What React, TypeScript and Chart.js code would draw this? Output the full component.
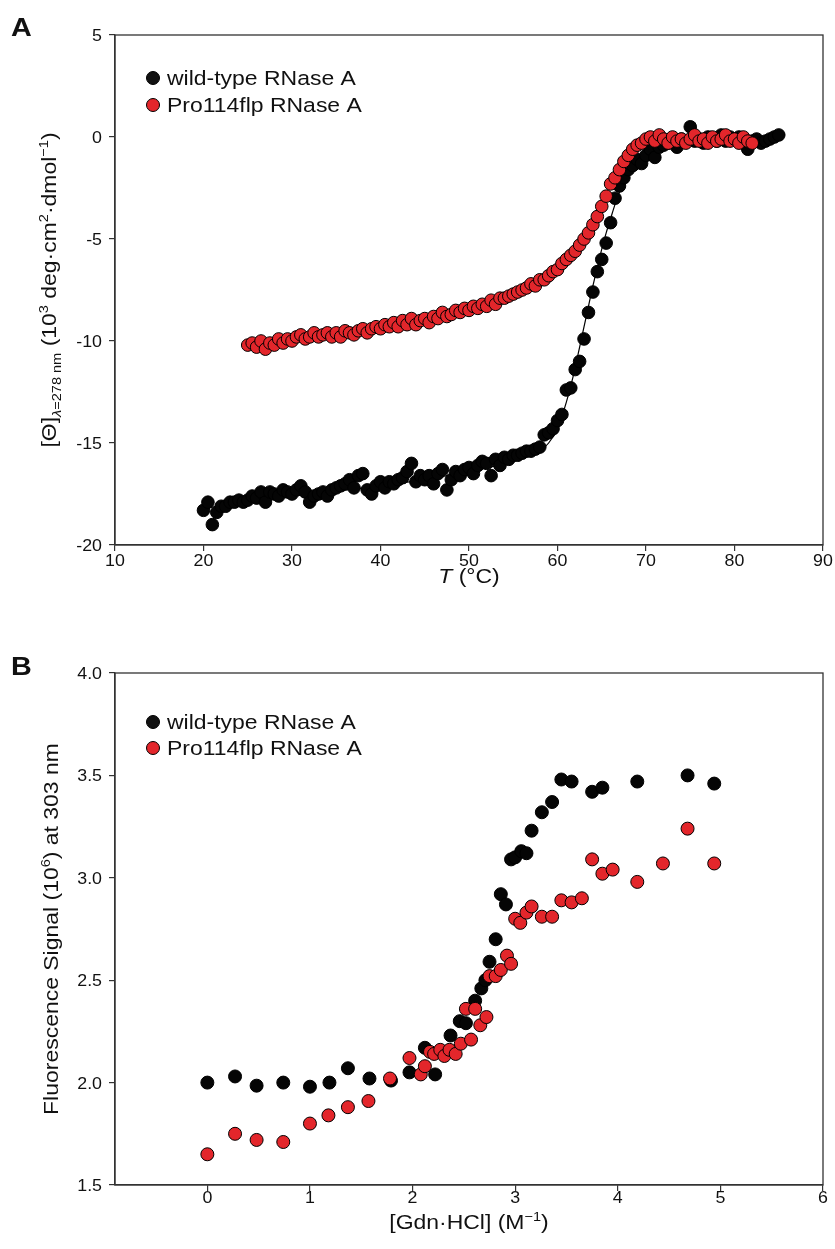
import React, { useEffect, useRef } from 'react';
import { Chart, registerables } from 'chart.js';

Chart.register(...registerables);

const FONT = '"Liberation Sans", Arial, Helvetica, sans-serif';
const RED = '#e3262b';
const INK = '#111111';
const AXIS = '#333333';

// ---------- Panel A: CD thermal denaturation ----------
const WT_T_START = 20;
const WT_T_STEP = 0.5;
const WT_CD = [
  -18.3, -17.9, -19.0, -18.4, -18.1, -18.1, -17.9, -17.9, -17.8, -17.9,
  -17.8, -17.6, -17.7, -17.4, -17.9, -17.4, -17.5, -17.6, -17.3, -17.4,
  -17.5, -17.3, -17.1, -17.4, -17.9, -17.6, -17.5, -17.4, -17.6, -17.3,
  -17.2, -17.1, -17.0, -16.8, -17.2, -16.6, -16.5, -17.3, -17.5, -17.1,
  -16.9, -17.2, -16.9, -17.0, -16.8, -16.7, -16.4, -16.0, -16.9, -16.6,
  -16.8, -16.6, -17.0, -16.5, -16.3, -17.3, -16.8, -16.4, -16.6, -16.3,
  -16.2, -16.5, -16.1, -15.9, -16.0, -16.6, -15.8, -16.1, -15.7, -15.8,
  -15.6, -15.6, -15.5, -15.4, -15.4, -15.3, -15.2, -14.6, -14.5, -14.3,
  -13.9, -13.6, -12.4, -12.3, -11.4, -11.0, -9.9, -8.6, -7.6, -6.6,
  -6.0, -5.2, -4.2, -3.0, -2.4, -2.0, -1.6, -1.4, -1.1, -1.3,
  -0.9, -0.6, -1.0, -0.5, -0.4, -0.3, -0.2, -0.5, -0.1, -0.2,
  0.5, -0.2, -0.1, -0.3, 0.0, -0.1, -0.2, 0.1, -0.2, 0.0,
  -0.1, 0.0, -0.3, -0.6, -0.2, -0.1, -0.3, -0.2, -0.1, 0.0,
  0.1,
];

const P_T_START = 25;
const P_T_STEP = 0.5;
const P_CD = [
  -10.2, -10.1, -10.3, -10.0, -10.4, -10.1, -10.2, -9.9, -10.1, -9.9,
  -10.0, -9.8, -9.7, -9.9, -9.8, -9.6, -9.8, -9.7, -9.6, -9.8,
  -9.6, -9.8, -9.5, -9.6, -9.7, -9.5, -9.4, -9.6, -9.4, -9.3,
  -9.4, -9.2, -9.3, -9.1, -9.3, -9.0, -9.2, -8.9, -9.2, -9.0,
  -8.9, -9.1, -8.8, -8.9, -8.6, -8.8, -8.7, -8.5, -8.6, -8.4,
  -8.5, -8.3, -8.4, -8.2, -8.3, -8.0, -8.2, -7.9, -7.9, -7.8,
  -7.7, -7.6, -7.5, -7.4, -7.2, -7.3, -7.0, -7.0, -6.8, -6.6,
  -6.5, -6.2, -6.0, -5.8, -5.6, -5.3, -5.0, -4.7, -4.3, -3.9,
  -3.4, -2.9, -2.3, -2.0, -1.6, -1.2, -0.9, -0.6, -0.4, -0.3,
  -0.1, 0.0, -0.2, 0.1, -0.1, -0.3, 0.0, -0.2, -0.1, -0.3,
  -0.1, 0.1, -0.2, -0.1, -0.3, 0.0, -0.2, -0.1, 0.1, -0.2,
  -0.1, -0.3, 0.0, -0.2,
  -0.3,
];

const FIT_T = [20, 30, 40, 50, 55, 57, 58, 59, 60, 60.5, 61, 61.5, 62, 62.5, 63, 63.5, 64, 64.5, 65, 65.5, 66, 66.5, 67, 68, 69, 70, 72, 75, 80, 85];
const FIT_WT = [-18.2, -17.6, -17.1, -16.4, -15.9, -15.6, -15.4, -15.0, -14.3, -13.7, -13.0, -12.2, -11.3, -10.3, -9.3, -8.3, -7.3, -6.4, -5.5, -4.7, -4.0, -3.3, -2.7, -1.8, -1.2, -0.8, -0.4, -0.2, -0.1, 0.0];

const A_X_TICKS = [10, 20, 30, 40, 50, 60, 70, 80, 90];
const A_Y_TICKS = [-20, -15, -10, -5, 0, 5];

// ---------- Panel B: GdnHCl denaturation ----------
const GDN_WT_X = [0, 0.27, 0.48, 0.74, 1.0, 1.19, 1.37, 1.58, 1.79, 1.97, 2.12, 2.22, 2.37, 2.46, 2.52, 2.61, 2.67, 2.71, 2.75, 2.81, 2.86, 2.91, 2.96, 3.0, 3.06, 3.11, 3.16, 3.26, 3.36, 3.45, 3.55, 3.75, 3.85, 4.19, 4.68, 4.94];
const GDN_WT_Y = [2.0, 2.03, 1.985, 2.0, 1.98, 2.0, 2.07, 2.02, 2.01, 2.05, 2.17, 2.04, 2.23, 2.30, 2.29, 2.40, 2.46, 2.50, 2.59, 2.70, 2.92, 2.87, 3.09, 3.10, 3.13, 3.12, 3.23, 3.32, 3.37, 3.48, 3.47, 3.42, 3.44, 3.47, 3.50, 3.46];
const GDN_P_X = [0, 0.27, 0.48, 0.74, 1.0, 1.18, 1.37, 1.57, 1.78, 1.97, 2.08, 2.12, 2.17, 2.21, 2.27, 2.31, 2.36, 2.42, 2.47, 2.52, 2.57, 2.61, 2.66, 2.72, 2.75, 2.81, 2.86, 2.92, 2.96, 3.0, 3.05, 3.11, 3.16, 3.26, 3.36, 3.45, 3.55, 3.65, 3.75, 3.85, 3.95, 4.19, 4.44, 4.68, 4.94];
const GDN_P_Y = [1.65, 1.75, 1.72, 1.71, 1.80, 1.84, 1.88, 1.91, 2.02, 2.12, 2.04, 2.08, 2.15, 2.14, 2.16, 2.13, 2.16, 2.14, 2.19, 2.36, 2.21, 2.36, 2.28, 2.32, 2.52, 2.52, 2.55, 2.62, 2.58, 2.80, 2.78, 2.83, 2.86, 2.81, 2.81, 2.89, 2.88, 2.90, 3.09, 3.02, 3.04, 2.98, 3.07, 3.24, 3.07];

const B_X_TICKS = [0, 1, 2, 3, 4, 5, 6];
const B_Y_TICKS = [1.5, 2.0, 2.5, 3.0, 3.5, 4.0];

const LEGEND_LABELS = ['wild-type RNase A', 'Pro114flp RNase A'];

type Run = { t: string; size: number; dy?: number; italic?: boolean; bold?: boolean };

function fontOf(r: Run) {
  return `${r.italic ? 'italic ' : ''}${r.bold ? 'bold ' : ''}${r.size}px ${FONT}`;
}

function drawRuns(
  ctx: CanvasRenderingContext2D,
  runs: Run[],
  x: number,
  y: number,
  align: 'left' | 'center' | 'right',
  rotate = 0,
  sx = 1.12,
) {
  ctx.save();
  ctx.translate(x, y);
  if (rotate) ctx.rotate(rotate);
  ctx.scale(sx, 1);
  ctx.textBaseline = 'alphabetic';
  ctx.textAlign = 'left';
  let w = 0;
  for (const r of runs) {
    ctx.font = fontOf(r);
    w += ctx.measureText(r.t).width;
  }
  let cx = align === 'left' ? 0 : align === 'center' ? -w / 2 : -w;
  ctx.fillStyle = INK;
  for (const r of runs) {
    ctx.font = fontOf(r);
    ctx.fillText(r.t, cx, r.dy || 0);
    cx += ctx.measureText(r.t).width;
  }
  ctx.restore();
}

type Deco = {
  letter: string;
  letterY: number;
  legendY: [number, number];
  xTitle: Run[];
  xTitleY: number;
  yTitle: Run[];
  yTitleX: number;
  xTickY: number;
  xTicks: number[];
  yTicks: number[];
  fmtY: (v: number) => string;
  fmtX: (v: number) => string;
};

function decoPlugin(d: Deco) {
  return {
    id: 'deco',
    afterDraw(chart: any) {
      const ctx: CanvasRenderingContext2D = chart.ctx;
      const a = chart.chartArea;
      const xs = chart.scales.x;
      const ys = chart.scales.y;
      ctx.save();
      // frame
      ctx.strokeStyle = AXIS;
      ctx.lineWidth = 1.3;
      ctx.strokeRect(a.left, a.top, a.right - a.left, a.bottom - a.top);
      // tick labels
      for (const v of d.xTicks) {
        drawRuns(ctx, [{ t: d.fmtX(v), size: 16.5 }], xs.getPixelForValue(v), d.xTickY, 'center', 0, 1.08);
      }
      for (const v of d.yTicks) {
        drawRuns(ctx, [{ t: d.fmtY(v), size: 16.5 }], 102, ys.getPixelForValue(v) + 6, 'right', 0, 1.08);
      }
      // titles
      drawRuns(ctx, d.xTitle, (a.left + a.right) / 2, d.xTitleY, 'center');
      drawRuns(ctx, d.yTitle, d.yTitleX, (a.top + a.bottom) / 2, 'center', -Math.PI / 2);
      // panel letter
      drawRuns(ctx, [{ t: d.letter, size: 25, bold: true }], 11, d.letterY, 'left', 0, 1.15);
      // legend
      const cols = [INK, RED];
      for (let i = 0; i < 2; i++) {
        const cy = d.legendY[i];
        ctx.beginPath();
        ctx.arc(153, cy, 6.5, 0, Math.PI * 2);
        ctx.fillStyle = cols[i];
        ctx.fill();
        ctx.lineWidth = 1;
        ctx.strokeStyle = '#000';
        ctx.stroke();
        drawRuns(ctx, [{ t: LEGEND_LABELS[i], size: 20.5 }], 167, cy + 6.5, 'left');
      }
      ctx.restore();
    },
  };
}

function axisOpts(min: number, max: number, ticks: number[], fit: (s: any) => void) {
  return {
    type: 'linear' as const,
    min,
    max,
    afterBuildTicks: (s: any) => {
      s.ticks = ticks.map((v) => ({ value: v }));
    },
    afterFit: fit,
    grid: { drawOnChartArea: false, drawTicks: true, tickLength: 6, color: AXIS, lineWidth: 1.2 },
    border: { display: true, color: AXIS, width: 1.3 },
    ticks: { display: false },
  };
}

const pointStyle = (fill: string, r: number) => ({
  backgroundColor: fill,
  borderColor: '#000',
  borderWidth: 1,
  pointRadius: r,
  pointHoverRadius: r,
  showLine: false,
});

function PanelA() {
  const ref = useRef<HTMLCanvasElement>(null);
  useEffect(() => {
    const wt = WT_CD.map((y, i) => ({ x: WT_T_START + i * WT_T_STEP, y }));
    const p = P_CD.map((y, i) => ({ x: P_T_START + i * P_T_STEP, y }));
    const fit = FIT_T.map((x, i) => ({ x, y: FIT_WT[i] }));
    const chart = new Chart(ref.current as HTMLCanvasElement, {
      type: 'scatter',
      data: {
        datasets: [
          { label: LEGEND_LABELS[1], data: p, order: 0, ...pointStyle(RED, 6.3) } as any,
          { label: LEGEND_LABELS[0], data: wt, order: 1, ...pointStyle('#050505', 6.3) } as any,
          {
            label: 'fit',
            data: fit,
            order: 2,
            showLine: true,
            borderColor: '#000',
            borderWidth: 1.2,
            pointRadius: 0,
            cubicInterpolationMode: 'monotone',
          } as any,
        ],
      },
      options: {
        animation: false,
        responsive: false,
        events: [],
        layout: { padding: { top: 35, right: 12, left: 0, bottom: 0 } },
        plugins: { legend: { display: false }, tooltip: { enabled: false } },
        scales: {
          x: axisOpts(10, 90, A_X_TICKS, (s: any) => { s.height = 75; }),
          y: axisOpts(-20, 5, A_Y_TICKS, (s: any) => { s.width = 115; }),
        } as any,
      },
      plugins: [
        decoPlugin({
          letter: 'A',
          letterY: 36,
          legendY: [78, 105],
          xTitle: [
            { t: 'T', size: 20.5, italic: true },
            { t: ' (°C)', size: 20.5 },
          ],
          xTitleY: 583,
          yTitle: [
            { t: '[Θ]', size: 20.5 },
            { t: 'λ', size: 13, dy: 5, italic: true },
            { t: '=278 nm', size: 13, dy: 5 },
            { t: ' (10', size: 20.5 },
            { t: '3', size: 13, dy: -8 },
            { t: ' deg·cm', size: 20.5 },
            { t: '2', size: 13, dy: -8 },
            { t: '·dmol', size: 20.5 },
            { t: '−1', size: 13, dy: -8 },
            { t: ')', size: 20.5 },
          ],
          yTitleX: 56,
          xTickY: 566,
          xTicks: A_X_TICKS,
          yTicks: A_Y_TICKS,
          fmtX: (v) => String(v),
          fmtY: (v) => String(v),
        }),
      ],
    });
    return () => chart.destroy();
  }, []);
  return <canvas ref={ref} width={835} height={620} style={{ position: 'absolute', left: 0, top: 0, width: 835, height: 620 }} />;
}

function PanelB() {
  const ref = useRef<HTMLCanvasElement>(null);
  useEffect(() => {
    const wt = GDN_WT_X.map((x, i) => ({ x, y: GDN_WT_Y[i] }));
    const p = GDN_P_X.map((x, i) => ({ x, y: GDN_P_Y[i] }));
    const chart = new Chart(ref.current as HTMLCanvasElement, {
      type: 'scatter',
      data: {
        datasets: [
          { label: LEGEND_LABELS[1], data: p, order: 0, ...pointStyle(RED, 6.5) } as any,
          { label: LEGEND_LABELS[0], data: wt, order: 1, ...pointStyle('#050505', 6.5) } as any,
        ],
      },
      options: {
        animation: false,
        responsive: false,
        events: [],
        layout: { padding: { top: 43, right: 12, left: 0, bottom: 0 } },
        plugins: { legend: { display: false }, tooltip: { enabled: false } },
        scales: {
          x: axisOpts(-0.9, 6, B_X_TICKS, (s: any) => { s.height = 64; }),
          y: axisOpts(1.5, 4.0, B_Y_TICKS, (s: any) => { s.width = 115; }),
        } as any,
      },
      plugins: [
        decoPlugin({
          letter: 'B',
          letterY: 45,
          legendY: [92, 118],
          xTitle: [
            { t: '[Gdn·HCl] (M', size: 20.5 },
            { t: '−1', size: 13, dy: -8 },
            { t: ')', size: 20.5 },
          ],
          xTitleY: 599,
          yTitle: [
            { t: 'Fluorescence Signal (10', size: 20.5 },
            { t: '6', size: 13, dy: -8 },
            { t: ') at 303 nm', size: 20.5 },
          ],
          yTitleX: 58,
          xTickY: 573,
          xTicks: B_X_TICKS,
          yTicks: B_Y_TICKS,
          fmtX: (v) => String(v),
          fmtY: (v) => v.toFixed(1),
        }),
      ],
    });
    return () => chart.destroy();
  }, []);
  return <canvas ref={ref} width={835} height={619} style={{ position: 'absolute', left: 0, top: 630, width: 835, height: 619 }} />;
}

export default function App() {
  return (
    <div style={{ position: 'absolute', left: 0, top: 0, width: 835, height: 1249, background: '#fff' }}>
      <PanelA />
      <PanelB />
    </div>
  );
}
